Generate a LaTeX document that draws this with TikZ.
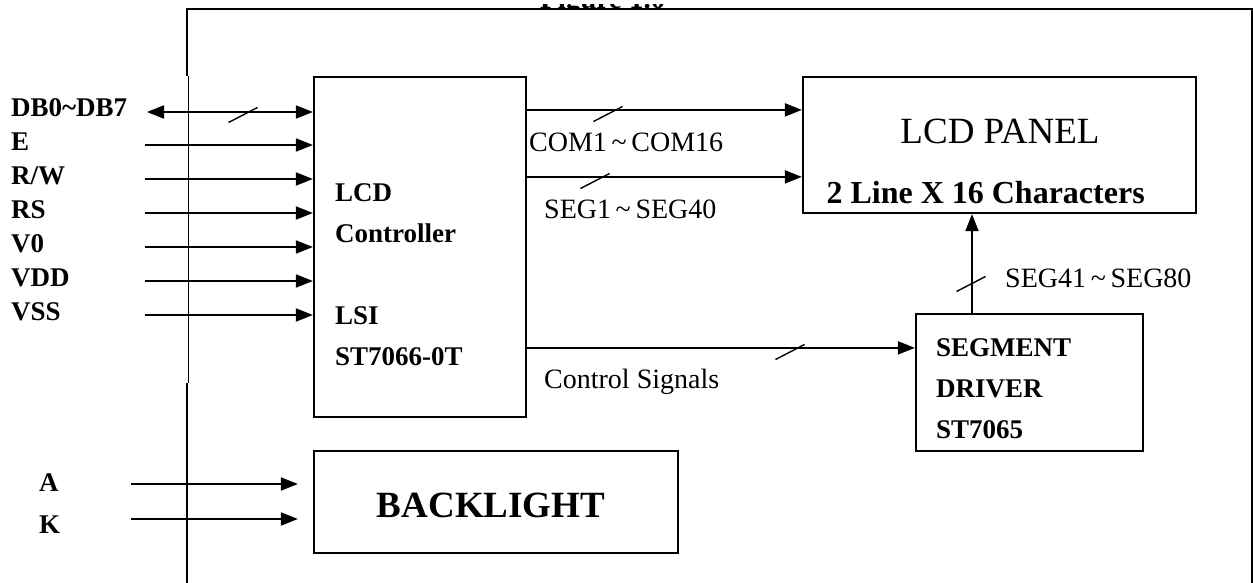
\documentclass[tikz,border=0pt]{standalone}
\usepackage{fontspec}
\setmainfont{Liberation Serif}
\usepackage{tikz}
\usetikzlibrary{arrows.meta,positioning}

\newcommand{\busmark}[1]{\draw[busmark] (#1) ++(-14.5,7.5) -- ++(29,-15);}

\begin{document}
\begin{tikzpicture}[
    x=1pt, y=-1pt,
    >={Triangle[length=17pt,width=13pt]},
    blk/.style={draw, line width=2.2pt, inner sep=0pt},
    sig/.style={->, line width=2pt},
    busmark/.style={line width=1.4pt},
    pin/.style={font=\bfseries\fontsize{27}{34}\selectfont, inner sep=0pt, align=left},
    chip/.style={font=\bfseries\fontsize{27}{41}\selectfont, inner sep=0pt, align=left},
    bus/.style={font=\fontsize{28}{34}\selectfont, inner sep=0pt, anchor=base west}
]
\useasboundingbox (0,0) rectangle (1253,583);

% --- frame ---
\draw[line width=2pt] (187,76) -- (187,9) -- (1251.5,9) -- (1251.5,583);
\draw[line width=0.7pt] (188.5,76) -- (188.5,383);
\draw[line width=1.7pt] (187,383) -- (187,583);
\begin{scope}
  \clip (500,4.5) rectangle (720,8.5);
  \node[font=\bfseries\fontsize{29}{34}\selectfont, anchor=base west, inner sep=0pt] (figtitle) at (540,9) {Figure 1.0};
\end{scope}

% --- blocks ---
\node[blk, minimum width=212pt, minimum height=340pt] (ctrl) at (420,247) {};
\node[blk, minimum width=393pt, minimum height=136pt] (panel) at (999.5,145) {};
\node[blk, minimum width=227pt, minimum height=137pt] (segdrv) at (1029.5,382.5) {};
\node[blk, minimum width=364pt, minimum height=102pt] (blight) at (496,502) {};

\node[chip, anchor=north west] (ctrl-name) at (335,183) {LCD\\Controller\\[41pt]LSI\\ST7066-0T};
\node[chip, anchor=north west] (segdrv-name) at (936,338) {SEGMENT\\DRIVER\\ST7065};
\node[font=\fontsize{37}{44}\selectfont, anchor=base] (panel-title) at (1000,143) {LCD PANEL};
\node[font=\bfseries\fontsize{32}{38}\selectfont, anchor=base west] (panel-size) at (823,203) {2 Line X 16 Characters};
\node[font=\bfseries\fontsize{37}{44}\selectfont, anchor=base] (blight-name) at (491,517) {BACKLIGHT};

% --- pins ---
\node[pin, anchor=north west] (pins) at (11,98) {DB0\textasciitilde DB7\\E\\R/W\\RS\\V0\\VDD\\VSS};
\node[pin, anchor=base west] (pin-a) at (39,491) {A};
\node[pin, anchor=base west] (pin-k) at (39,533) {K};

\coordinate (db-end) at (147,112);
\coordinate (e-end) at (145,145);
\coordinate (rw-end) at (145,179);
\coordinate (rs-end) at (145,213);
\coordinate (v0-end) at (145,247);
\coordinate (vdd-end) at (145,281);
\coordinate (vss-end) at (145,315);
\coordinate (a-end) at (131,484);
\coordinate (k-end) at (131,519);

\draw[sig, <->] (db-end) -- (db-end -| ctrl.west);
\draw[sig] (e-end) -- (e-end -| ctrl.west);
\draw[sig] (rw-end) -- (rw-end -| ctrl.west);
\draw[sig] (rs-end) -- (rs-end -| ctrl.west);
\draw[sig] (v0-end) -- (v0-end -| ctrl.west);
\draw[sig] (vdd-end) -- (vdd-end -| ctrl.west);
\draw[sig] (vss-end) -- (vss-end -| ctrl.west);
\draw[sig, shorten >=15pt] (a-end) -- (a-end -| blight.west);
\draw[sig, shorten >=15pt] (k-end) -- (k-end -| blight.west);
\busmark{243,115}

% --- buses ---
\draw[sig] ([yshift=-34pt]ctrl.north east) -- ([yshift=-34pt]ctrl.north east -| panel.west);
\draw[sig] ([yshift=-101pt]ctrl.north east) -- ([yshift=-101pt]ctrl.north east -| panel.west);
\draw[sig] ([yshift=-272pt]ctrl.north east) -- ([yshift=-272pt]ctrl.north east -| segdrv.west);
\coordinate (seg-up) at (972,314);
\draw[sig] (seg-up) -- (seg-up |- panel.south);
\busmark{608,114}
\busmark{595,181}
\busmark{790,352}
\busmark{971,284}

\node[bus] (com-lbl) at (529,152) {COM1\,\textasciitilde\,COM16};
\node[bus] (seg-lbl) at (544,218) {SEG1\,\textasciitilde\,SEG40};
\node[bus] (ctl-lbl) at (544,388) {Control Signals};
\node[bus] (seg2-lbl) at (1005,287) {SEG41\,\textasciitilde\,SEG80};

\end{tikzpicture}
\end{document}
